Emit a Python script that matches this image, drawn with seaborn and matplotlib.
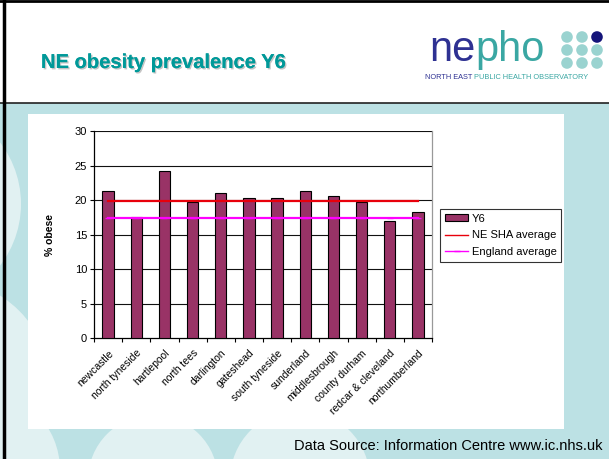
import numpy as np
import pandas as pd
import seaborn as sns
import matplotlib.pyplot as plt
import matplotlib.patheffects as pe
from matplotlib.patches import Rectangle, Ellipse, Patch
from matplotlib.lines import Line2D

# chart data
areas = ['newcastle', 'north tyneside', 'hartlepool', 'north tees', 'darlington',
         'gateshead', 'south tyneside', 'sunderland', 'middlesbrough',
         'county durham', 'redcar & cleveland', 'northumberland']
y6 = [21.3, 17.6, 24.2, 19.7, 21.1, 20.3, 20.3, 21.4, 20.6, 19.7, 17.0, 18.3]
ne_sha_average = 19.9
england_average = 17.5
y_ticks = [0, 5, 10, 15, 20, 25, 30]

W, H = 609, 459
plt.rcParams['font.family'] = ['Liberation Sans', 'DejaVu Sans']
fig = plt.figure(figsize=(W / 100, H / 100), dpi=100)
fig.patch.set_facecolor('white')


def fx(x):
    return x / W


def fy(y):
    return 1 - y / H


def rect(x0, y0, x1, y1, color, z):
    fig.patches.append(Rectangle((fx(x0), fy(y1)), fx(x1) - fx(x0), fy(y0) - fy(y1),
                                 transform=fig.transFigure, facecolor=color,
                                 edgecolor='none', zorder=z))


def circle(cx, cy, r, color, z):
    fig.patches.append(Ellipse((fx(cx), fy(cy)), 2 * r / W, 2 * r / H,
                               transform=fig.transFigure, facecolor=color,
                               edgecolor='none', zorder=z))


# slide background
cyan = '#bce1e4'
light = '#e1f1f2'
rect(0, 103, W, H, cyan, -20)
for cx, cy, r in [(-80, 204, 101), (-60, 390, 112), (-20, 470, 80),
                  (153, 480, 65), (300, 480, 70)]:
    circle(cx, cy, r, light, -19)
rect(0, 0, W, 103, 'white', -18)
rect(28, 114, 564, 428.5, 'white', -17)
fig.add_artist(Line2D([0, 1], [fy(103), fy(103)], transform=fig.transFigure,
                      color='#222222', lw=1.2, zorder=-16))
fig.add_artist(Line2D([0, 1], [fy(0.8), fy(0.8)], transform=fig.transFigure,
                      color='black', lw=2, zorder=-16))
fig.add_artist(Line2D([fx(4), fx(4)], [0, 1], transform=fig.transFigure,
                      color='black', lw=2.5, zorder=-16))

# title
fig.text(fx(41), fy(68), 'NE obesity prevalence Y6', fontsize=14.5, fontweight='bold',
         color='#009999', ha='left', va='baseline',
         path_effects=[pe.withSimplePatchShadow(offset=(1, -1), shadow_rgbFace='#8a8a8a',
                                                alpha=0.5), pe.Normal()])

# logo
navy = '#2e3192'
teal = '#3aa7a3'
renderer = fig.canvas.get_renderer()
t1 = fig.text(fx(429), fy(61), 'ne', fontsize=30, color=navy, ha='left',
              va='baseline')
bb = t1.get_window_extent(renderer)
fig.text(bb.x1 / W, fy(61), 'pho', fontsize=30, color=teal, ha='left',
         va='baseline')
for i, cy in enumerate([37, 50, 63]):
    for j, cx in enumerate([567, 582, 597]):
        col = '#15157a' if (i == 0 and j == 2) else '#9ad3d0'
        circle(cx, cy, 5.8, col, -15)
s1 = fig.text(fx(425), fy(77.5), 'NORTH EAST ', fontsize=5.3, color=navy,
              ha='left', va='center')
bb = s1.get_window_extent(renderer)
fig.text(bb.x1 / W, fy(77.5), 'PUBLIC HEALTH OBSERVATORY', fontsize=5.3,
         color=teal, ha='left', va='center')

# chart
ax = fig.add_axes([fx(94), fy(338.3), fx(432) - fx(94), fy(131.3) - fy(338.3)])
ax.set_facecolor('white')
df = pd.DataFrame({'area': areas, 'Y6': y6})
sns.barplot(data=df, x='area', y='Y6', color='#993366', saturation=1, width=0.4,
            edgecolor='black', linewidth=0.8, ax=ax, zorder=3)
pos = np.arange(len(areas))
ax.plot(pos, [ne_sha_average] * len(areas), color='#e8000b', lw=1.6, zorder=4)
ax.plot(pos, [england_average] * len(areas), color='#ff00ff', lw=1.6, marker='_',
        markersize=5, zorder=4)

ax.set_xlim(-0.5, len(areas) - 0.5)
ax.set_ylim(0, 30)
ax.set_yticks(y_ticks)
for v in y_ticks[1:]:
    ax.axhline(v, color='#111111', lw=0.8, zorder=1)
ax.set_xticks(pos)
ax.set_xticklabels(areas, rotation=45, ha='right', rotation_mode='anchor', fontsize=7.5)
ax.set_xticks(np.arange(len(areas) + 1) - 0.5, minor=True)
ax.tick_params(axis='x', which='major', length=0, pad=7)
ax.tick_params(axis='x', which='minor', length=3, width=0.8, direction='out')
ax.tick_params(axis='y', length=3, width=0.8, direction='out', labelsize=8, pad=2)
ax.set_xlabel('')
ax.set_ylabel('% obese', fontsize=7.5, fontweight='bold', labelpad=14)
for s in ['left', 'bottom']:
    ax.spines[s].set_color('black')
    ax.spines[s].set_linewidth(0.9)
ax.spines['top'].set_visible(False)
ax.spines['right'].set_color('#999999')
ax.spines['right'].set_linewidth(0.9)

handles = [Patch(facecolor='#993366', edgecolor='black', linewidth=0.8),
           Line2D([], [], color='#e8000b', lw=1),
           Line2D([], [], color='#ff00ff', lw=1, marker='_', markersize=4)]
leg = fig.legend(handles, ['Y6', 'NE SHA average', 'England average'],
                 loc='upper left', bbox_to_anchor=(fx(440.5), fy(208.5)),
                 fontsize=8, frameon=True, fancybox=False, borderpad=0.45,
                 handlelength=2.0, handleheight=0.5, handletextpad=0.35,
                 labelspacing=0.6, borderaxespad=0)
leg.get_frame().set_edgecolor('black')
leg.get_frame().set_linewidth(0.8)

fig.text(fx(603), fy(446), 'Data Source: Information Centre www.ic.nhs.uk',
         fontsize=10.5, ha='right', va='center', color='black')

fig.savefig('out.png', dpi=100)
